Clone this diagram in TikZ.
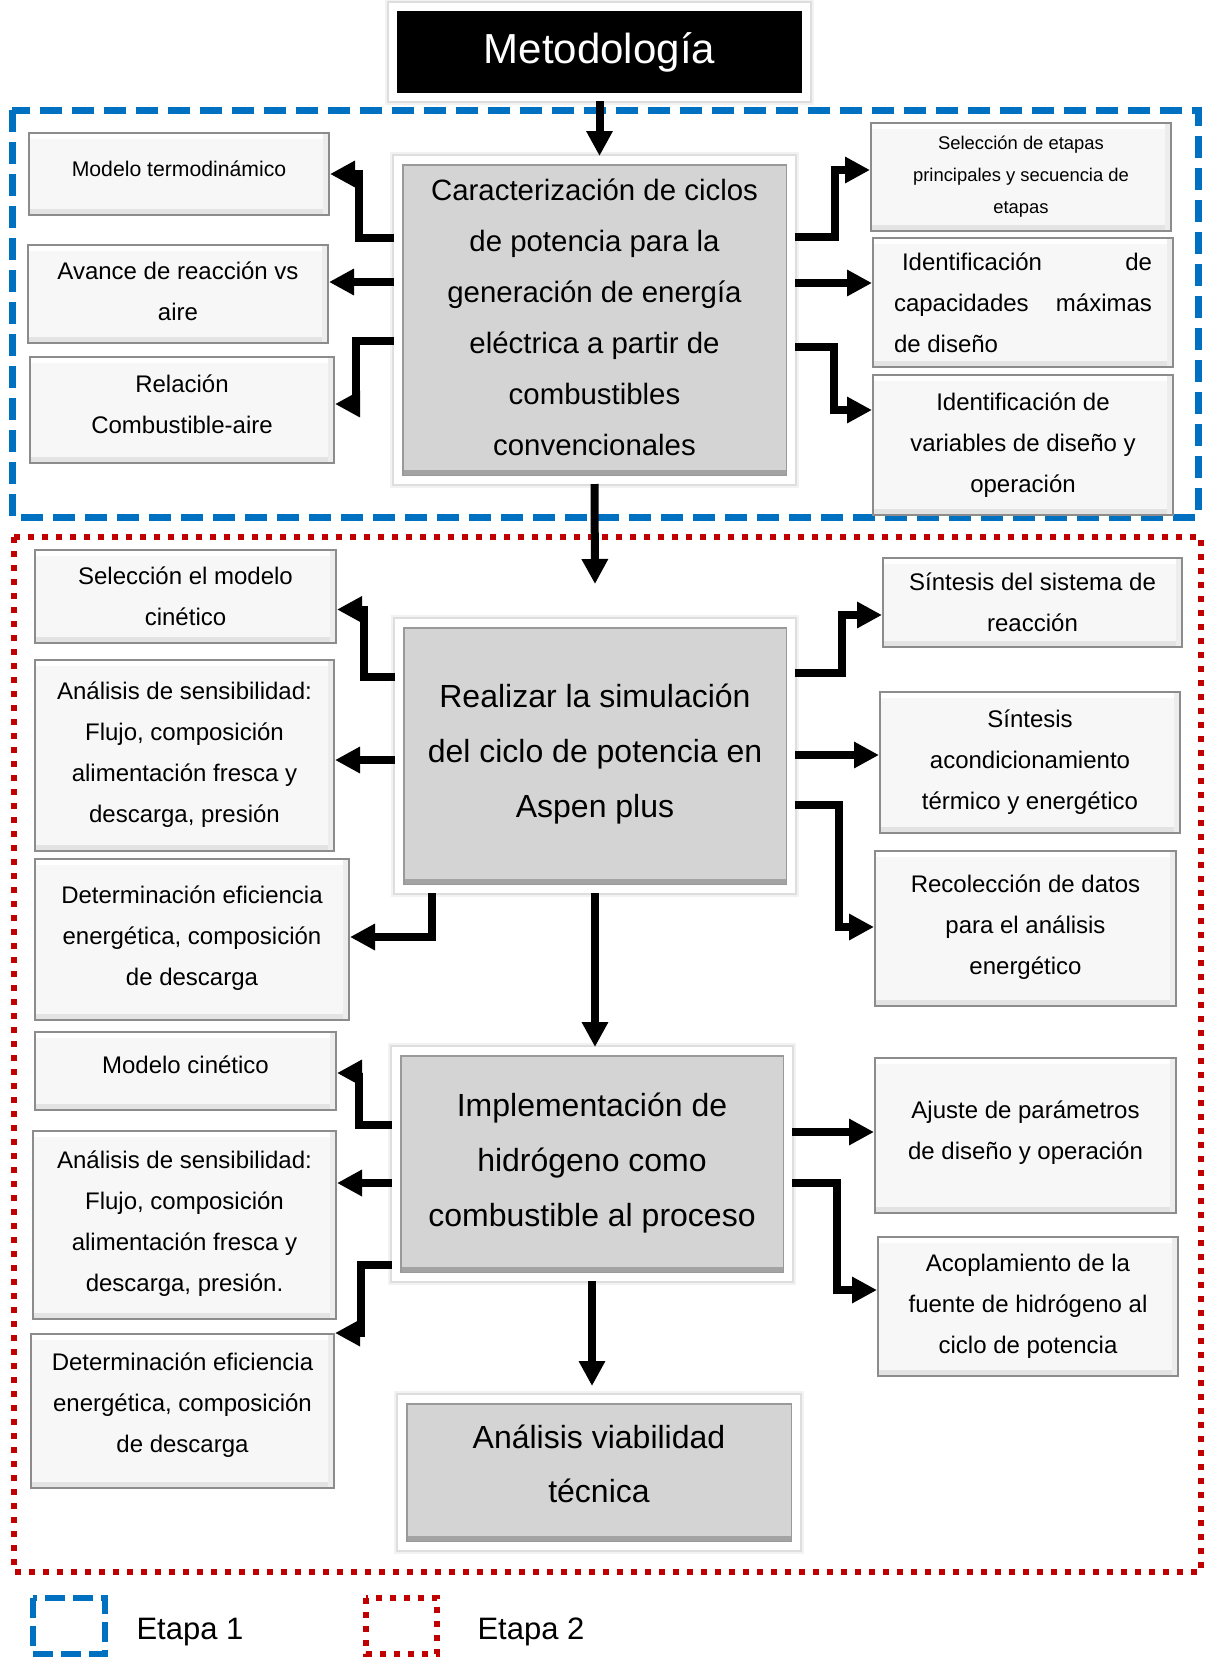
\documentclass[tikz,border=0pt]{standalone}
\usepackage{fontspec}
\setmainfont{Liberation Sans}
\usetikzlibrary{arrows.meta}
\definecolor{etapaazul}{HTML}{0070C0}
\definecolor{etaparoja}{HTML}{C00000}
\tikzset{
  caja/.style={draw=black!45, line width=2pt, fill=black!3, align=center, inner sep=0pt,
    font=\fontsize{24}{41}\selectfont,
    path picture={
      \fill[white] (path picture bounding box.north west) rectangle ([yshift=-6pt]path picture bounding box.north east);
      \fill[black!11] (path picture bounding box.south west) rectangle ([yshift=6pt]path picture bounding box.south east);
      \fill[black!7] ([xshift=-6pt]path picture bounding box.south east) rectangle (path picture bounding box.north east);}},
  halo/.style={preaction={draw=black!5, line width=16pt}, preaction={draw=black!13, line width=12pt}},
  principal/.style={halo, draw=white, line width=8pt, fill=black!17, align=center, inner sep=0pt,
    path picture={
      \fill[black!36] ([yshift=4pt]path picture bounding box.south west) rectangle ([yshift=10pt]path picture bounding box.south east);
      \draw[black!40, line width=1.5pt] ([shift={(4.75pt,4.75pt)}]path picture bounding box.south west) rectangle ([shift={(-4.75pt,-4.75pt)}]path picture bounding box.north east);}},
  titulo/.style={halo, draw=white, line width=8pt, fill=black, text=white, inner sep=0pt,
    font=\fontsize{42}{50}\selectfont},
  flecha/.style={->, line width=8pt}
}

\begin{document}
\begin{tikzpicture}[>={Triangle[length=25pt,width=25pt]}, x=1pt, y=-1pt]
  \fill[white] (0,0) rectangle (1205,1658);
  \clip (0,0) rectangle (1205,1658);
  \draw[etapaazul, line width=7pt, dash pattern=on 22pt off 10pt] (12,110) rectangle (1198,517);
  \draw[etaparoja, line width=6pt, dash pattern=on 6pt off 8pt] (14,537) rectangle (1201,1572);

  \node[titulo, minimum width=413pt, minimum height=90pt] (metodo) at (599.5,52) {Metodología};

  \node[principal, minimum width=393pt, minimum height=320pt, font=\fontsize{29.4}{51}\selectfont] (caract) at (594.5,320)
    {Caracterización de ciclos\\de potencia para la\\generación de energía\\eléctrica a partir de\\combustibles\\convencionales\\[-45pt]};
  \node[principal, minimum width=392pt, minimum height=266pt, font=\fontsize{32}{55}\selectfont] (simula) at (595,756)
    {Realizar la simulación\\del ciclo de potencia en\\Aspen plus\\[-44pt]};
  \node[principal, minimum width=392pt, minimum height=226pt, font=\fontsize{32}{55}\selectfont] (hidrog) at (592,1164)
    {Implementación de\\hidrógeno como\\combustible al proceso\\[-47pt]};
  \node[principal, minimum width=394pt, minimum height=147pt, font=\fontsize{32}{54}\selectfont] (viabil) at (599,1472.5)
    {Análisis viabilidad\\técnica\\[-36pt]};

  \node[caja, minimum width=300pt, minimum height=82pt, font=\fontsize{21.2}{36}\selectfont] (mtermo) at (179,174) {Modelo termodinámico\\[-26pt]};
  \node[caja, minimum width=300pt, minimum height=98pt] (avance) at (178,294) {Avance de reacción vs\\aire\\[-35pt]};
  \node[caja, minimum width=304pt, minimum height=106pt] (relac) at (182,410) {Relación\\Combustible-aire\\[-29pt]};
  \node[caja, minimum width=300pt, minimum height=108pt, font=\fontsize{18.4}{32}\selectfont] (selet) at (1021,177)
    {Selección de etapas\\principales y secuencia de\\etapas};
  \node[caja, minimum width=300pt, minimum height=129pt] (capmax) at (1023,302.5)
    {\makebox[258pt]{\hspace{8pt}Identificación\hfill de}\\\makebox[258pt]{capacidades\hfill máximas}\\\makebox[258pt][l]{de diseño}};
  \node[caja, minimum width=300pt, minimum height=140pt] (varop) at (1023,445) {Identificación de\\variables de diseño y\\operación};

  \node[caja, minimum width=301pt, minimum height=93pt] (selcin) at (185.5,596.5) {Selección el modelo\\cinético};
  \node[caja, minimum width=299pt, minimum height=191pt] (sens1) at (184.5,755.5)
    {Análisis de sensibilidad:\\Flujo, composición\\alimentación fresca y\\descarga, presión\\[-35pt]};
  \node[caja, minimum width=314pt, minimum height=161pt] (efic1) at (192,939.5)
    {Determinación eficiencia\\energética, composición\\de descarga\\[-33pt]};
  \node[caja, minimum width=299pt, minimum height=89pt] (sintreac) at (1032.5,602.5) {Síntesis del sistema de\\reacción};
  \node[caja, minimum width=300pt, minimum height=141pt] (sintterm) at (1030,762.5)
    {Síntesis\\acondicionamiento\\térmico y energético};
  \node[caja, minimum width=301pt, minimum height=155pt] (recol) at (1025.5,928.5)
    {Recolección de datos\\para el análisis\\energético\\[-33pt]};

  \node[caja, minimum width=301pt, minimum height=78pt] (mcin) at (185.5,1071) {Modelo cinético\\[-29pt]};
  \node[caja, minimum width=303pt, minimum height=188pt] (sens2) at (184.5,1225)
    {Análisis de sensibilidad:\\Flujo, composición\\alimentación fresca y\\descarga, presión.\\[-33pt]};
  \node[caja, minimum width=303pt, minimum height=154pt] (efic2) at (182.5,1411)
    {Determinación eficiencia\\energética, composición\\de descarga\\[-25pt]};
  \node[caja, minimum width=301pt, minimum height=155pt] (ajuste) at (1025.5,1135.5)
    {Ajuste de parámetros\\de diseño y operación\\[-31pt]};
  \node[caja, minimum width=300pt, minimum height=139pt] (acopl) at (1028,1306.5)
    {Acoplamiento de la\\fuente de hidrógeno al\\ciclo de potencia};

  \draw[flecha] (metodo.south) -- (metodo.south |- caract.north);
  \draw[flecha] ([yshift=82pt]caract.west) -- ++(-35,0) |- (mtermo.east);
  \draw[flecha] ([yshift=38pt]caract.west) -- ([yshift=12pt]avance.east);
  \draw[flecha] ([yshift=-21pt]caract.west) -- ++(-38,0) |- ([yshift=6pt]relac.east);
  \draw[flecha] ([yshift=83pt]caract.east) -- ++(40,0) |- ([yshift=7pt]selet.west);
  \draw[flecha] ([yshift=37pt]caract.east) -- ([yshift=19.5pt]capmax.west);
  \draw[flecha] ([yshift=-27pt]caract.east) -- ++(39,0) |- ([yshift=35pt]varop.west);
  \draw[flecha] (caract.south) -- ([yshift=35pt]simula.north);

  \draw[flecha] ([yshift=79pt]simula.west) -- ++(-31,0) |- ([yshift=-13pt]selcin.east);
  \draw[flecha] ([yshift=-4pt]simula.west) -- ([yshift=-4.5pt]sens1.east);
  \draw[flecha] ([xshift=-163pt]simula.south) |- ([yshift=2.5pt]efic1.east);
  \draw[flecha] ([yshift=83pt]simula.east) -- ++(47,0) |- ([yshift=-12.5pt]sintreac.west);
  \draw[flecha] ([yshift=1pt]simula.east) -- ([yshift=7.5pt]sintterm.west);
  \draw[flecha] ([yshift=-49pt]simula.east) -- ++(44,0) |- ([yshift=1.5pt]recol.west);
  \draw[flecha] (simula.south) -- (simula.south |- hidrog.north);

  \draw[flecha] ([yshift=39pt]hidrog.west) -- ++(-33,0) |- ([yshift=-2pt]mcin.east);
  \draw[flecha] ([yshift=-19pt]hidrog.west) -- ([yshift=42pt]sens2.east);
  \draw[flecha] ([yshift=-101pt]hidrog.west) -- ++(-31,0) |- ([yshift=78pt]efic2.east);
  \draw[flecha] ([yshift=32pt]hidrog.east) -- ([yshift=3.5pt]ajuste.west);
  \draw[flecha] ([yshift=-19pt]hidrog.east) -- ++(45,0) |- ([yshift=16.5pt]acopl.west);
  \draw[flecha, shorten >=9pt] (hidrog.south) -- (hidrog.south |- viabil.north);

  \draw[etapaazul, line width=6pt, dash pattern=on 20pt off 8pt] (33,1598) rectangle (105,1654);
  \node[font=\fontsize{31}{37}\selectfont] (etapa1) at (190,1632) {Etapa 1};
  \draw[etaparoja, line width=6pt, dash pattern=on 6pt off 8pt] (366,1598) rectangle (437,1654);
  \node[font=\fontsize{31}{37}\selectfont] (etapa2) at (531,1632) {Etapa 2};
\end{tikzpicture}
\end{document}
